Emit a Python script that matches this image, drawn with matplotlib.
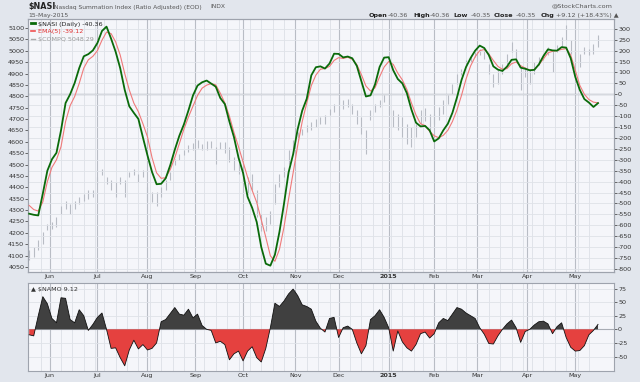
import numpy as np
import pandas as pd
import matplotlib
matplotlib.use('Agg')
import matplotlib.pyplot as plt
from matplotlib.lines import Line2D

plt.rcParams['font.family'] = 'DejaVu Sans'
plt.rcParams['axes.unicode_minus'] = False

# trading days on the chart (exchange holidays removed)
holidays = ['2014-05-26', '2014-07-04', '2014-09-01', '2014-11-27', '2014-12-25',
            '2015-01-01', '2015-01-19', '2015-02-16', '2015-04-03']
days = pd.bdate_range('2014-05-19', '2015-05-15', freq='C', holidays=holidays)

# values, one every second trading day
nasi = [-547, -552, -555, -455, -350, -298, -268, -165, -40, 0,
        52, 120, 174, 184, 201, 235, 290, 310, 255, 195,
        120, 20, -55, -85, -113, -198, -280, -356, -412, -410,
        -385, -325, -254, -190, -138, -74, -5, 40, 55, 63,
        49, 35, -17, -45, -125, -196, -290, -360, -470, -520,
        -585, -700, -776, -785, -735, -630, -501, -358, -275, -160,
        -75, -20, 87, 124, 128, 118, 141, 186, 185, 169,
        173, 165, 130, 60, -10, -5, 45, 125, 168, 170,
        110, 70, 50, 5, -70, -130, -147, -145, -165, -216,
        -202, -165, -135, -85, -15, 65, 125, 166, 200, 223,
        212, 180, 128, 113, 107, 127, 158, 160, 122, 117,
        110, 112, 137, 175, 206, 201, 200, 216, 214, 165,
        80, 20, -22, -38, -58, -40.36]

ema5 = [-509, -528, -535, -493, -400, -335, -300, -240, -125, -52,
        -10, 50, 120, 158, 174, 200, 248, 285, 278, 240,
        180, 95, 20, -40, -80, -135, -195, -290, -360, -385,
        -382, -345, -290, -226, -160, -104, -54, -5, 28, 42,
        49, 43, 5, -40, -100, -175, -240, -310, -380, -440,
        -495, -575, -655, -740, -765, -710, -608, -480, -360, -235,
        -125, -40, 40, 88, 115, 118, 128, 155, 168, 164,
        170, 160, 136, 90, 38, 15, 30, 80, 125, 150,
        137, 97, 66, 22, -40, -95, -135, -143, -170, -190,
        -199, -188, -165, -125, -72, -5, 70, 130, 172, 200,
        205, 185, 155, 128, 114, 118, 140, 148, 131, 120,
        110, 114, 135, 162, 190, 197, 200, 206, 209, 180,
        110, 41, 0, -24, -36, -39.12]

compq_low = [4079, 4093, 4123, 4152, 4211, 4218, 4225, 4284, 4306, 4284,
             4306, 4328, 4342, 4350, 4357, 4416, 4452, 4416, 4386, 4357,
             4416, 4357, 4445, 4452, 4423, 4445, 4342, 4335, 4320, 4357,
             4386, 4430, 4496, 4518, 4540, 4555, 4565, 4574, 4562, 4565,
             4574, 4504, 4569, 4550, 4510, 4474, 4460, 4416, 4372, 4386,
             4269, 4210, 4210, 4240, 4328, 4401, 4445, 4504, 4548, 4606,
             4628, 4643, 4650, 4665, 4679, 4679, 4716, 4731, 4760, 4745,
             4753, 4723, 4679, 4635, 4548, 4694, 4731, 4753, 4775, 4723,
             4665, 4650, 4621, 4592, 4577, 4621, 4680, 4690, 4650, 4679,
             4694, 4723, 4767, 4811, 4855, 4892, 4928, 4950, 4972, 4980,
             4965, 4899, 4841, 4855, 4899, 4943, 4994, 4958, 4826, 4884,
             4855, 4899, 4936, 4958, 4980, 4906, 4994, 5016, 5046, 4987,
             4928, 4928, 4987, 4980, 4987, 5016]

compq_high = [4123, 4137, 4167, 4203, 4240, 4247, 4269, 4320, 4342, 4328,
              4342, 4357, 4372, 4386, 4386, 4445, 4482, 4445, 4430, 4423,
              4445, 4430, 4467, 4482, 4460, 4474, 4401, 4379, 4379, 4401,
              4430, 4467, 4525, 4547, 4562, 4584, 4594, 4606, 4591, 4603,
              4603, 4577, 4599, 4600, 4575, 4533, 4504, 4489, 4445, 4460,
              4386, 4284, 4269, 4298, 4416, 4460, 4489, 4562, 4606, 4643,
              4657, 4672, 4686, 4701, 4709, 4716, 4745, 4767, 4797, 4782,
              4789, 4767, 4738, 4709, 4650, 4738, 4767, 4782, 4804, 4789,
              4738, 4723, 4709, 4679, 4665, 4679, 4740, 4750, 4723, 4723,
              4753, 4782, 4804, 4855, 4899, 4921, 4958, 4980, 4994, 5009,
              5002, 4943, 4899, 4914, 4943, 4987, 5038, 5009, 4929, 4928,
              4914, 4950, 4972, 4987, 5016, 5002, 5024, 5060, 5112, 5046,
              5002, 4987, 5016, 5009, 5031, 5068]

namo = [-10, -12, 25, 60, 47, 20, 12, 58, 57, 18,
        12, 36, 25, -2, 9, 22, 30, 0, -35, -34,
        -52, -67, -38, -20, -36, -28, -38, -35, -25, 14,
        18, 29, 40, 28, 26, 37, 21, 28, 7, 0,
        -2, -25, -22, -28, -56, -45, -40, -58, -40, -32,
        -52, -60, -35, 3, 48, 42, 52, 65, 74, 62,
        45, 42, 37, 15, 2, -5, 20, 22, -15, 3,
        6, 0, -25, -45, -30, 18, 25, 36, 22, 3,
        -40, -3, -23, -34, -40, -28, -8, -5, -16, -8,
        12, 20, 16, 28, 40, 37, 30, 25, 20, 3,
        -9, -26, -27, -12, 0, 10, 17, 3, -24, -4,
        0, 8, 14, 15, 10, -8, 5, 12, -15, -33,
        -40, -39, -30, -10, -2, 9.12]

nasi_ticks = np.arange(-800, 301, 50)
compq_ticks = np.arange(4050, 5101, 50)
namo_ticks = [-50, -25, 0, 25, 50, 75]

pos = np.arange(len(days))
x = pos[::2]
nasi = np.array(nasi)
ema5 = np.array(ema5)
namo = np.array(namo)

# month starts and week starts for the grid
month_pos = [i for i in range(1, len(days)) if days[i].month != days[i - 1].month]
week_pos = [i for i in range(1, len(days)) if days[i].weekday() < days[i - 1].weekday()]
month_lbl = ['2015' if days[i].month == 1 else days[i].strftime('%b') for i in month_pos]

bg = '#f5f6fa'
fig = plt.figure(figsize=(6.4, 3.82), dpi=100, facecolor='#e2e6ed')
ax = fig.add_axes([0.0445, 0.288, 0.9148, 0.6623])
ax2 = ax.twinx()
axb = fig.add_axes([0.0445, 0.0296, 0.9148, 0.2288])

xlim = (-0.3, 257)
for a in (ax, axb):
    a.set_facecolor(bg)
    a.set_xlim(*xlim)
    for w in week_pos:
        a.axvline(w, color='#dde0e6', lw=0.6, zorder=0)
    for m in month_pos:
        a.axvline(m, color='#b9bdc5', lw=0.8, zorder=0)
    a.set_xticks(month_pos)
    a.set_xticklabels(month_lbl, fontsize=4.6, color='#333333')
    a.tick_params(axis='x', length=0, pad=1.5)
    for lbl in a.get_xticklabels():
        if lbl.get_text() == '2015':
            lbl.set_fontweight('bold')
    for s in a.spines.values():
        s.set_color('#9ea3ad')
        s.set_linewidth(0.8)

# $COMPQ price bars on the left scale
ax.vlines(x, compq_low, compq_high, color='#b8bcc4', lw=0.8, zorder=2)
ax.set_ylim(4028, 5139.5)
ax.set_yticks(compq_ticks)
ax.tick_params(axis='y', labelsize=4.6, length=2, width=0.5, pad=1,
               colors='#333333')

# $NASI and its EMA on the right scale
ax2.set_ylim(-814, 345)
ax2.set_yticks(nasi_ticks)
ax2.tick_params(axis='y', labelsize=4.6, length=2, width=0.5, pad=1,
                colors='#333333')
ax2.grid(axis='y', color='#dfe2e8', lw=0.6)
ax2.axhline(0, color='#a8acb4', lw=1.0, zorder=1)
ax2.plot(x, ema5, color='#f07a7a', lw=0.8, zorder=3)
ax2.plot(x, nasi, color='#0a6a0a', lw=1.3, zorder=4)
for s in ax2.spines.values():
    s.set_color('#9ea3ad')
    s.set_linewidth(0.8)

handles = [Line2D([], [], color='#0a6a0a', lw=2),
           Line2D([], [], color='#f05050', lw=1.2),
           Line2D([], [], color='#aaaaaa', lw=1)]
labels = ['$NASI (Daily) -40.36', 'EMA(5) -39.12', '$COMPQ 5048.29']
ax2.legend(handles, labels, loc='upper left', frameon=False, fontsize=4.6,
           handlelength=0.7, handletextpad=0.4, labelspacing=0.35,
           borderaxespad=0.15, borderpad=0.2,
           labelcolor=['#222222', '#e03030', '#999999'])

# $NAMO panel
axb.fill_between(x, namo, 0, where=namo >= 0, interpolate=True,
                 color='#404040', lw=0, zorder=2)
axb.fill_between(x, namo, 0, where=namo <= 0, interpolate=True,
                 color='#e5413f', lw=0, zorder=2)
axb.plot(x, namo, color='#111111', lw=0.6, zorder=3)
axb.axhline(0, color='#a8acb4', lw=0.8, zorder=1)
axb.set_ylim(-76, 84.6)
axb.set_yticks(namo_ticks)
axb.yaxis.tick_right()
axb.tick_params(axis='y', labelsize=4.6, length=2, width=0.5, pad=1,
                colors='#333333')
axb.grid(axis='y', color='#dfe2e8', lw=0.6)
axb.set_axisbelow(True)
axb.text(0.004, 0.955, '\u25b2 $NAMO 9.12', transform=axb.transAxes,
         fontsize=4.6, color='#333333', va='top', ha='left')

# header
def ftext(px, py, s, **kw):
    fig.text(px / 640, 1 - py / 382, s, va='center', ha='left', **kw)

ftext(28, 7, '$NASI', fontsize=5.8, fontweight='bold', color='#222222')
ftext(54, 7, 'Nasdaq Summation Index (Ratio Adjusted) (EOD)', fontsize=4.3,
      color='#555555')
ftext(210, 7, 'INDX', fontsize=4.3, color='#555555')
ftext(28, 15, '15-May-2015', fontsize=4.4, color='#555555')
fig.text(613 / 640, 1 - 6 / 382, '@StockCharts.com', va='center', ha='right',
         fontsize=4.6, color='#555555')

pieces = [(369, 'Open', True), (388, '-40.36', False), (413, 'High', True),
          (430, '-40.36', False), (453, 'Low', True), (471, '-40.35', False),
          (494, 'Close', True), (516, '-40.35', False), (541, 'Chg', True),
          (556, '+9.12 (+18.43%) \u25b2', False)]
for px, s, bold in pieces:
    ftext(px, 15.5, s, fontsize=4.6, color='#222222' if bold else '#555555',
          fontweight='bold' if bold else 'normal')

fig.savefig('out.png', dpi=100, facecolor=fig.get_facecolor())
